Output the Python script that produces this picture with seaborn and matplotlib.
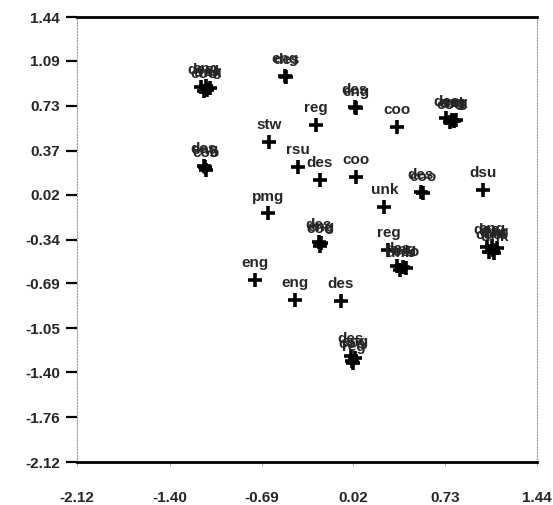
import matplotlib
matplotlib.use("Agg")
import matplotlib.pyplot as plt
import seaborn as sns
import pandas as pd

# point labels and coordinates (clusters are overlapping points)
labels = [
    "des", "eng", "reg", "coo", "unk",
    "eng", "des",
    "des", "eng",
    "reg", "stw",
    "des", "coo", "eng",
    "rsu", "des", "coo", "pmg", "coo",
    "des", "eng", "reg", "coo", "unk",
    "des", "coo",
    "unk", "dsu",
    "des", "eng", "coo",
    "reg", "des", "eng", "coo", "unk",
    "des", "eng", "reg", "coo", "unk", "dsu",
    "eng", "eng", "des",
    "des", "eng", "coo", "reg",
]
xs = [
    -1.16, -1.12, -1.09, -1.14, -1.11,
    -0.51, -0.50,
    0.03, 0.04,
    -0.27, -0.63,
    -1.14, -1.12, -1.13,
    -0.41, -0.24, 0.04, -0.64, 0.36,
    0.74, 0.78, 0.81, 0.77, 0.80,
    0.54, 0.56,
    0.26, 1.02,
    -0.25, -0.23, -0.24,
    0.29, 0.36, 0.40, 0.43, 0.38,
    1.05, 1.09, 1.13, 1.07, 1.11, 1.10,
    -0.74, -0.43, -0.08,
    0.00, 0.03, 0.01, 0.02,
]
ys = [
    0.88, 0.89, 0.87, 0.85, 0.86,
    0.97, 0.96,
    0.72, 0.71,
    0.58, 0.44,
    0.25, 0.22, 0.24,
    0.24, 0.14, 0.16, -0.13, 0.56,
    0.63, 0.62, 0.62, 0.60, 0.61,
    0.04, 0.03,
    -0.08, 0.06,
    -0.36, -0.37, -0.39,
    -0.42, -0.55, -0.56, -0.57, -0.58,
    -0.40, -0.39, -0.41, -0.44, -0.45, -0.42,
    -0.66, -0.82, -0.83,
    -1.27, -1.29, -1.31, -1.33,
]

x_ticks = [-2.12, -1.40, -0.69, 0.02, 0.73, 1.44]
y_ticks = [1.44, 1.09, 0.73, 0.37, 0.02, -0.34, -0.69, -1.05, -1.40, -1.76, -2.12]

df = pd.DataFrame({"label": labels, "x": xs, "y": ys})

sns.set_style("white")
plt.rcParams["font.family"] = ["Liberation Sans", "DejaVu Sans"]

fig = plt.figure(figsize=(5.53, 5.05), dpi=100)
ax = fig.add_axes([0.139, 0.085, 0.832, 0.881])

sns.scatterplot(data=df, x="x", y="y", marker="+", color="black",
                s=110, linewidth=2.6, ax=ax, legend=False)

# labels sit just above each marker
for lab, x, y in zip(df["label"], df["x"], df["y"]):
    ax.annotate(lab, (x, y), xytext=(0, 12), textcoords="offset points",
                ha="center", va="center", fontsize=11, fontweight="bold")

ax.set_xlim(-2.12, 1.44)
ax.set_ylim(-2.12, 1.44)
ax.set_xticks(x_ticks)
ax.set_xticklabels([f"{v:.2f}" for v in x_ticks], fontsize=11, fontweight="bold")
ax.set_yticks(y_ticks)
ax.set_yticklabels([f"{v:.2f}" for v in y_ticks], fontsize=11, fontweight="bold")
ax.set_xlabel("")
ax.set_ylabel("")

# solid top/bottom frame, faint dotted sides
for side in ["top", "bottom"]:
    ax.spines[side].set_color("black")
    ax.spines[side].set_linewidth(2)
for side in ["left", "right"]:
    ax.spines[side].set_color("#999999")
    ax.spines[side].set_linewidth(0.8)
    ax.spines[side].set_linestyle(":")

ax.tick_params(axis="y", direction="out", length=8, width=1.6, color="black", pad=4, left=True)
ax.tick_params(axis="x", direction="out", length=3, width=0.8, color="#aaaaaa", pad=18, bottom=True)

fig.savefig("out.png", dpi=100)
